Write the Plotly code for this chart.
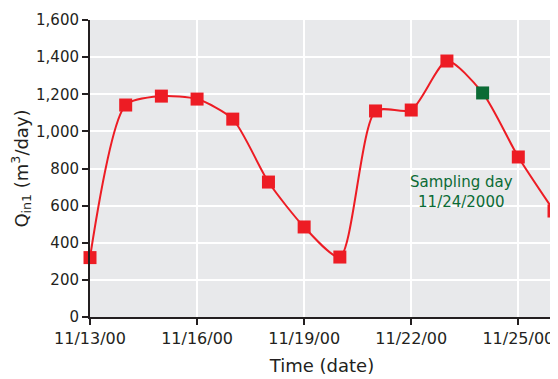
import plotly.graph_objects as go

# daily inflow readings
dates = ["2000-11-13", "2000-11-14", "2000-11-15", "2000-11-16", "2000-11-17",
         "2000-11-18", "2000-11-19", "2000-11-20", "2000-11-21", "2000-11-22",
         "2000-11-23", "2000-11-24", "2000-11-25", "2000-11-26"]
q_in1 = [320, 1142, 1190, 1174, 1066, 727, 485, 323, 1110, 1115, 1379, 1207, 862, 571]
sampling_day = "2000-11-24"

RED = "#ED1C24"
GREEN = "#0B6B35"
INK = "#231F20"

colors = [GREEN if d == sampling_day else RED for d in dates]

fig = go.Figure()
fig.add_trace(go.Scatter(
    x=dates, y=q_in1, mode="lines+markers",
    line=dict(color=RED, width=2, shape="spline", smoothing=0.7),
    marker=dict(symbol="square", size=13, color=colors, line=dict(width=0)),
    cliponaxis=False, showlegend=False,
))

fig.add_annotation(
    x="2000-11-23 10:00", y=676, text="Sampling day<br>11/24/2000",
    showarrow=False, font=dict(color=GREEN, size=15),
)

# page body adds an 8px offset, so the figure is sized to fit the window
fig.update_layout(
    width=550, height=371,
    margin=dict(l=82, r=4, t=12, b=62),
    paper_bgcolor="white", plot_bgcolor="#E8E9EB",
    font=dict(family="DejaVu Sans", size=15, color=INK),
)
fig.update_xaxes(
    range=["2000-11-13", "2000-11-26"],
    tick0="2000-11-13", dtick=3 * 86400000, tickformat="%m/%d/%y",
    tickfont=dict(size=16),
    showgrid=True, gridcolor="white", gridwidth=2,
    showline=True, linecolor=INK, linewidth=2,
    ticks="outside", ticklen=6, tickcolor=INK, tickwidth=2,
    title=dict(text="Time (date)", standoff=12),
    zeroline=False, automargin=False,
)
fig.update_yaxes(
    range=[0, 1600], dtick=200, tickformat=",",
    showgrid=True, gridcolor="white", gridwidth=2,
    showline=True, linecolor=INK, linewidth=2,
    ticks="outside", ticklen=6, tickcolor=INK, tickwidth=2,
    title=dict(text="Q<sub>in1</sub> (m<sup>3</sup>/day)", standoff=6),
    zeroline=False, automargin=False,
)

fig.write_html("out.html")
